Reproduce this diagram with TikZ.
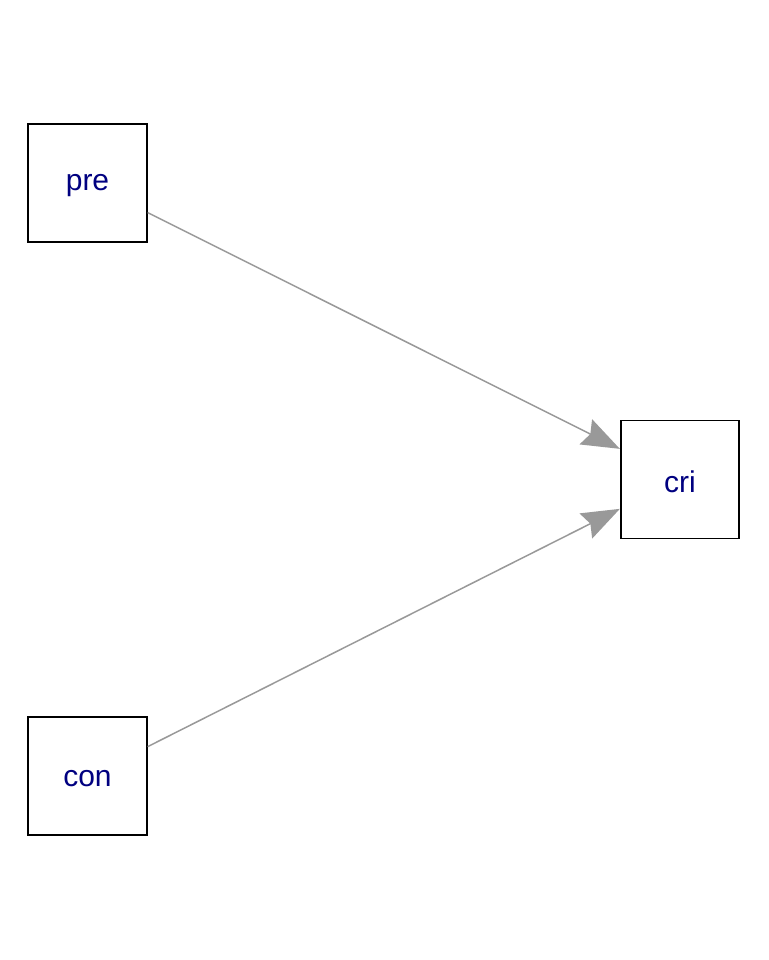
\documentclass[tikz,border=0pt]{standalone}
\usepackage{fontspec}
\setmainfont{Liberation Sans}
\usetikzlibrary{arrows.meta}
\definecolor{labelblue}{RGB}{0,0,128}
\definecolor{edgegray}{RGB}{153,153,153}
\newcommand{\lowlabel}[1]{\raisebox{-2.5pt}[\height][\depth]{#1}}
\begin{document}
\begin{tikzpicture}[x=1pt,y=-1pt,
  varbox/.style={draw=black,line width=1.8pt,minimum width=118.5pt,minimum height=118pt,inner sep=0pt,
    text=labelblue,font=\fontsize{30}{32}\selectfont},
  edge/.style={draw=edgegray,line width=1.5pt,-{Stealth[length=38pt,width=28pt,inset=5pt]}}]
\path[use as bounding box] (0,0) rectangle (768,960);
\node[varbox] (pre) at (87.5,183.2) {\lowlabel{pre}};
\node[varbox] (con) at (87.5,776) {\lowlabel{con}};
\node[varbox] (cri) at (680,479.5) {\lowlabel{cri}};
\path[edge] (pre.-26.8) -- (cri.153.2);
\path[edge] (con.26.8) -- (cri.206.8);
\end{tikzpicture}
\end{document}
